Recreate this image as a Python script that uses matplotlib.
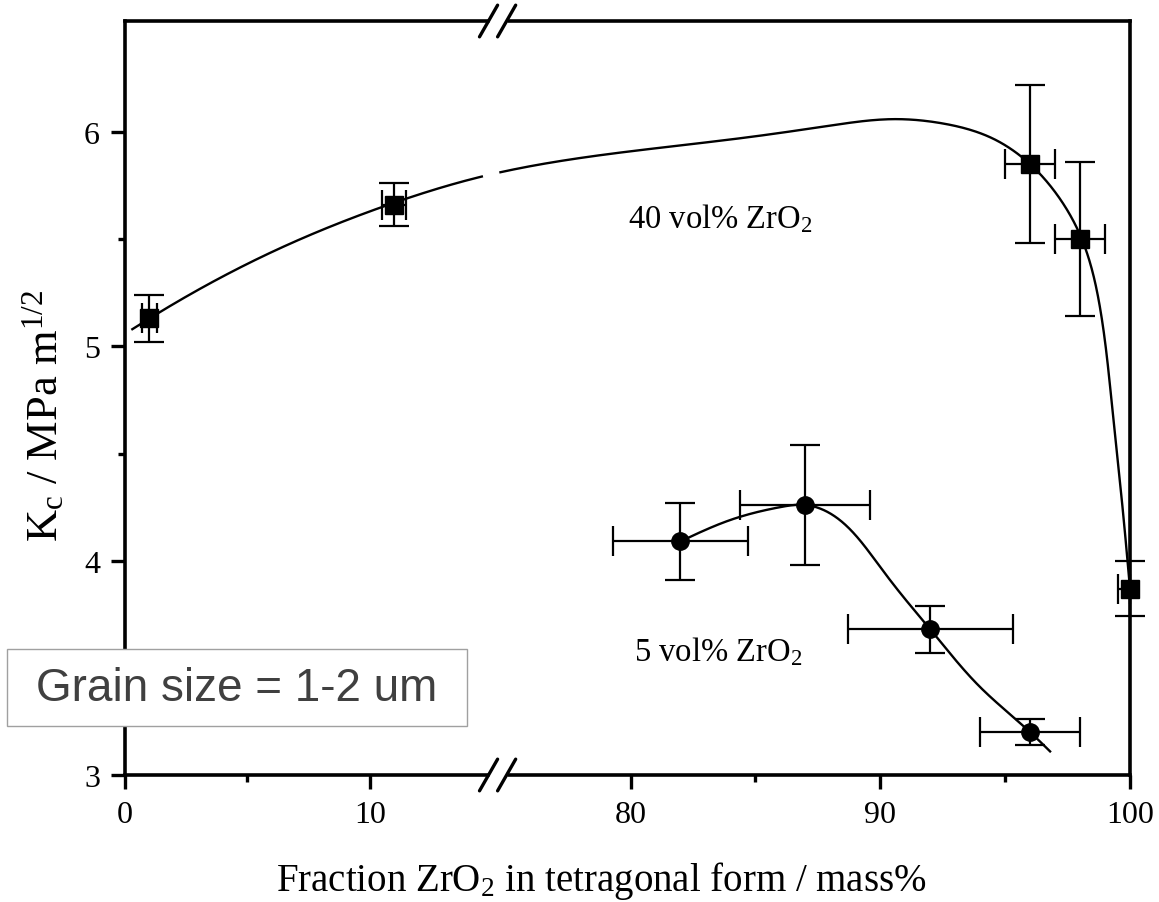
import numpy as np
import matplotlib
matplotlib.use("Agg")
import matplotlib.pyplot as plt
from matplotlib.patches import Rectangle

plt.rcParams['font.family'] = ['Liberation Serif', 'DejaVu Serif']
plt.rcParams['mathtext.fontset'] = 'custom'
plt.rcParams['mathtext.rm'] = 'Liberation Serif'
plt.rcParams['mathtext.it'] = 'Liberation Serif:italic'

# ---------------- data ----------------
x40 = [1, 11, 96, 98, 100]
y40 = [5.13, 5.66, 5.85, 5.50, 3.87]
x40_err_lo = [0.3, 0.5, 1.0, 1.0, 0.5]
x40_err_hi = [0.3, 0.5, 1.0, 1.0, 0.0]
y40_err = [0.11, 0.10, 0.37, 0.36, 0.13]

x5 = [82, 87, 92, 96]
y5 = [4.09, 4.26, 3.68, 3.20]
x5_err = [2.7, 2.6, 3.3, 2.0]
y5_err = [0.18, 0.28, 0.11, 0.06]

# hand-drawn guide curves
curve40_x = [0.3, 1, 6, 11, 14.5, 74.7, 80, 85, 88, 90.5, 92.5, 94.5, 96, 97, 98, 98.8, 99.3, 99.7, 100]
curve40_y = [5.08, 5.13, 5.44, 5.67, 5.79, 5.81, 5.91, 5.98, 6.03, 6.06, 6.04, 5.97, 5.85, 5.72, 5.52, 5.18, 4.70, 4.25, 3.87]
curve5_x = [82, 84, 86, 87, 88, 89, 90, 91, 92, 94, 96, 96.8]
curve5_y = [4.09, 4.19, 4.25, 4.26, 4.22, 4.12, 3.97, 3.82, 3.68, 3.41, 3.20, 3.11]

xticks_major = [0, 10, 80, 90, 100]
xticks_minor = [5, 85, 95]
yticks_major = [3, 4, 5, 6]
yticks_minor = [3.5, 4.5, 5.5]

# ---------------- broken x scale ----------------
S1, S2 = 24.5, 25.0
B1, B2 = 15.2, 74.7
EPS = 0.02
U1 = B1 * S1
U2 = U1 + (B2 - B1) * EPS


def fwd(x):
    x = np.asarray(x, float)
    return np.where(x <= B1, x * S1,
                    np.where(x < B2, U1 + (x - B1) * EPS, U2 + (x - B2) * S2))


def inv(u):
    u = np.asarray(u, float)
    return np.where(u <= U1, u / S1,
                    np.where(u < U2, B1 + (u - U1) / EPS, B2 + (u - U2) / S2))


YS = 214.33


def natural_spline(t, y, tt):
    n = len(t)
    h = np.diff(t)
    A = np.zeros((n, n))
    r = np.zeros(n)
    A[0, 0] = 1
    A[-1, -1] = 1
    for i in range(1, n - 1):
        A[i, i - 1] = h[i - 1]
        A[i, i] = 2 * (h[i - 1] + h[i])
        A[i, i + 1] = h[i]
        r[i] = 3 * ((y[i + 1] - y[i]) / h[i] - (y[i] - y[i - 1]) / h[i - 1])
    c = np.linalg.solve(A, r)
    b = (y[1:] - y[:-1]) / h - h * (2 * c[:-1] + c[1:]) / 3
    d = (c[1:] - c[:-1]) / (3 * h)
    idx = np.clip(np.searchsorted(t, tt) - 1, 0, n - 2)
    dt = tt - t[idx]
    return y[idx] + b[idx] * dt + c[idx] * dt ** 2 + d[idx] * dt ** 3


def smooth(xs, ys, n=800):
    u = fwd(xs)
    v = np.asarray(ys, float) * YS
    t = np.concatenate([[0], np.cumsum(np.hypot(np.diff(u), np.diff(v)))])
    tt = np.linspace(0, t[-1], n)
    uu = natural_spline(t, u, tt)
    vv = natural_spline(t, v, tt)
    return inv(uu), vv / YS


W, H = 1159, 903
fig = plt.figure(figsize=(W / 100, H / 100), dpi=100)
ax = fig.add_axes([125 / W, 1 - 776 / H, 1005 / W, 754 / H])
ax.set_xscale('function', functions=(fwd, inv))
ax.set_xlim(0, 100)
ax.set_ylim(3, 3 + 754 / YS)

# curves
cx, cy = smooth(curve40_x, curve40_y)
cx = np.where((cx > 14.6) & (cx < B2 + 0.05), np.nan, cx)
ax.plot(cx, cy, color='black', lw=1.7, zorder=2)
cx5, cy5 = smooth(curve5_x, curve5_y)
ax.plot(cx5, cy5, color='black', lw=1.7, zorder=2)

# data with error bars
ax.errorbar(x40, y40, xerr=[x40_err_lo, x40_err_hi], yerr=y40_err, fmt='s', ms=13,
            color='black', ecolor='black', elinewidth=1.6, capsize=11, capthick=1.6,
            zorder=3, clip_on=False)
ax.errorbar(x5, y5, xerr=x5_err, yerr=y5_err, fmt='o', ms=12.5, color='black',
            ecolor='black', elinewidth=1.6, capsize=11, capthick=1.6, zorder=3)

# ticks
ax.set_xticks(xticks_major)
ax.set_xticklabels([str(v) for v in xticks_major])
ax.set_xticks(xticks_minor, minor=True)
ax.set_yticks(yticks_major)
ax.set_yticklabels([str(v) for v in yticks_major])
ax.set_yticks(yticks_minor, minor=True)
ax.tick_params(which='major', direction='out', length=10, width=2.4, labelsize=23, pad=8)
ax.tick_params(which='minor', direction='out', length=5, width=2.4)
ax.tick_params(axis='x', which='both', top=False)
ax.tick_params(axis='y', which='both', right=False)
for s in ax.spines.values():
    s.set_linewidth(2.6)

# labels
ax.set_xlabel(r'Fraction ZrO$_2$ in tetragonal form / mass%', fontsize=28)
ax.xaxis.set_label_coords(0.474, -0.112)
ax.set_ylabel(r'K$_\mathrm{c}$ / MPa m$^{1/2}$', fontsize=32)
ax.yaxis.set_label_coords(-0.058, 0.477)

ax.text(83.6, 5.60, r'40 vol% ZrO$_2$', fontsize=23.5, ha='center', va='center')
ax.text(83.5, 3.58, r'5 vol% ZrO$_2$', fontsize=23.5, ha='center', va='center')

# axis break marks
xb = float(fwd(B1 + (B2 - B1) / 2) / fwd(100))
for yy in (0, 1):
    ax.plot([xb - 0.009, xb + 0.009], [yy, yy], transform=ax.transAxes, color='white',
            lw=5, clip_on=False, zorder=5, solid_capstyle='butt')
    for off in (-0.009, 0.009):
        ax.plot([xb + off - 0.009, xb + off + 0.009], [yy - 0.021, yy + 0.021],
                transform=ax.transAxes, color='black', lw=2.4, clip_on=False,
                zorder=6, solid_capstyle='round')

# grain size box
fig.add_artist(Rectangle((7 / W, 1 - 727 / H), 460 / W, 77 / H, transform=fig.transFigure,
                         facecolor='white', edgecolor='#a0a0a0', lw=1.0, zorder=10))
fig.text(237 / W, 1 - 689 / H, 'Grain size = 1-2 um', fontsize=33, ha='center', va='center',
         family='Liberation Sans', color='#404040', zorder=11)

fig.savefig('out.png', dpi=100)
